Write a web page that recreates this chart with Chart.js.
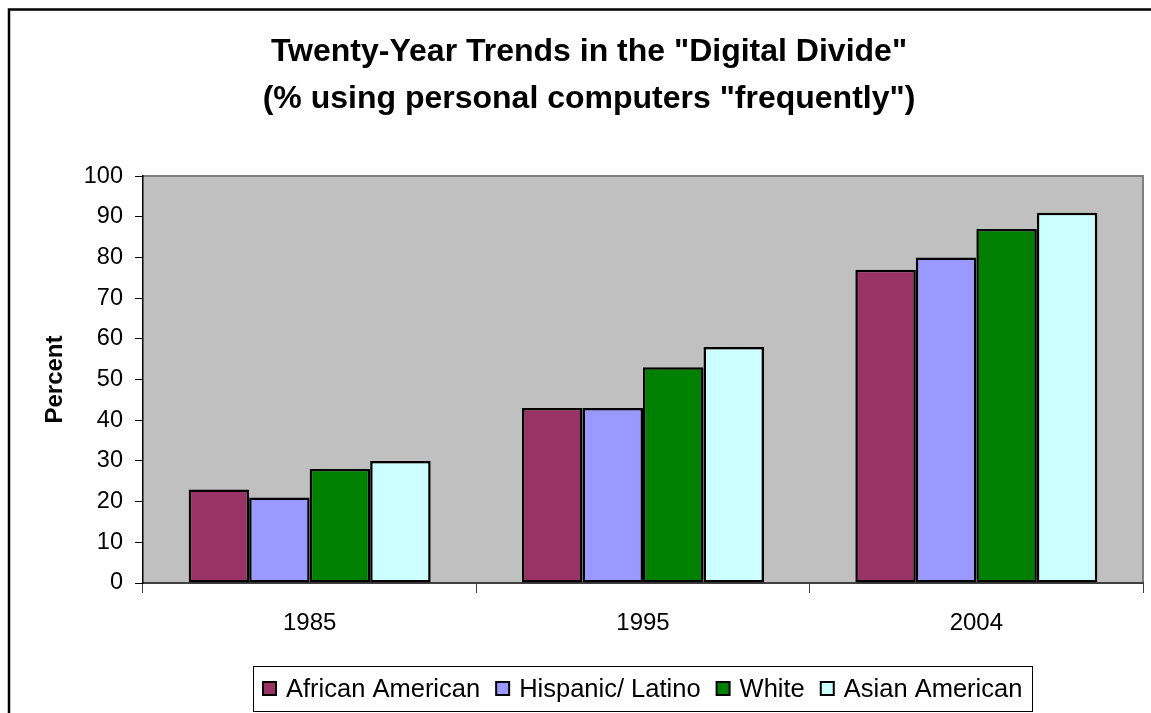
<!DOCTYPE html>
<html>
<head>
<meta charset="utf-8">
<script src="https://cdn.jsdelivr.net/npm/chart.js@4/dist/chart.umd.min.js"></script>
<style>
  html, body { margin: 0; padding: 0; background: #fff; }
  #wrap { width: 1151px; height: 713px; }
</style>
</head>
<body>
<div id="wrap"><canvas id="divide"></canvas></div>
<script>
// data
const years = ["1985", "1995", "2004"];
const groups = ["African American", "Hispanic/ Latino", "White", "Asian American"];
const africanAmerican = [23, 43, 77];
const hispanicLatino = [21, 43, 80];
const white = [28, 53, 87];
const asianAmerican = [30, 58, 91];
const groupColors = ["#993366", "#9999FF", "#008000", "#CCFFFF"];
const titleLines = ['Twenty-Year Trends in the "Digital Divide"', '(% using personal computers "frequently")'];

const fontFam = '"Liberation Sans", Arial, sans-serif';
const seriesValues = [africanAmerican, hispanicLatino, white, asianAmerican];

// gray plot area + outer frame
const backdrop = {
  id: "backdrop",
  beforeDraw(chart) {
    const ctx = chart.ctx;
    const a = chart.chartArea;
    ctx.save();
    ctx.fillStyle = "#fff";
    ctx.fillRect(0, 0, chart.width, chart.height);
    ctx.strokeStyle = "#000";
    ctx.lineWidth = 2.5;
    ctx.strokeRect(9, 9.5, chart.width + 20, chart.height + 20);
    ctx.fillStyle = "#C0C0C0";
    ctx.fillRect(a.left, a.top, a.right - a.left, a.bottom - a.top);
    ctx.strokeStyle = "#808080";
    ctx.lineWidth = 2;
    ctx.beginPath();
    ctx.moveTo(a.left, a.top);
    ctx.lineTo(a.right, a.top);
    ctx.lineTo(a.right, a.bottom);
    ctx.stroke();
    ctx.restore();
  }
};

// boxed legend under the x axis, centred on the plot
const boxLegend = {
  id: "boxLegend",
  afterDraw(chart) {
    const ctx = chart.ctx;
    const a = chart.chartArea;
    ctx.save();
    ctx.font = "25.5px " + fontFam;
    const sq = 13, gapTxt = 10, gapItem = 16, pad = 10;
    const items = chart.data.datasets.map(ds => ({
      label: ds.label, color: ds.backgroundColor, w: ctx.measureText(ds.label).width
    }));
    let total = pad * 2 + gapItem * (items.length - 1);
    items.forEach(it => total += sq + gapTxt + it.w);
    const cx = (a.left + a.right) / 2;
    const top = 666, bottom = 711, mid = 688.5;
    let x = Math.round(cx - total / 2);
    ctx.strokeStyle = "#000";
    ctx.lineWidth = 1;
    ctx.strokeRect(x + 0.5, top + 0.5, Math.round(total), bottom - top);
    x += pad;
    ctx.textBaseline = "middle";
    ctx.textAlign = "left";
    items.forEach(it => {
      ctx.fillStyle = it.color;
      ctx.fillRect(x, mid - 6.5, sq, sq);
      ctx.lineWidth = 2;
      ctx.strokeStyle = "#000";
      ctx.strokeRect(x, mid - 6.5, sq, sq);
      x += sq + gapTxt;
      ctx.fillStyle = "#000";
      ctx.fillText(it.label, x, mid + 1);
      x += it.w + gapItem;
    });
    ctx.restore();
  }
};

new Chart(document.getElementById("divide"), {
  type: "bar",
  data: {
    labels: years,
    datasets: groups.map((g, i) => ({
      label: g,
      data: seriesValues[i],
      backgroundColor: groupColors[i],
      borderColor: "#000",
      borderWidth: 2.5,
      borderSkipped: false,
      categoryPercentage: 0.726,
      barPercentage: 1.0
    }))
  },
  options: {
    responsive: true,
    maintainAspectRatio: false,
    animation: false,
    layout: { padding: { left: 35, right: 8, top: 0, bottom: 78 } },
    plugins: {
      legend: { display: false },
      tooltip: { enabled: false },
      title: {
        display: true,
        text: titleLines,
        color: "#000",
        font: { family: fontFam, size: 32, weight: "bold", lineHeight: 1.47 },
        padding: { top: 28.5, bottom: 53.5 }
      }
    },
    scales: {
      x: {
        grid: { offset: true, drawOnChartArea: false, drawTicks: true, tickLength: 10, color: "#404040", lineWidth: 1 },
        border: { display: true, color: "#404040", width: 2 },
        ticks: { color: "#000", font: { family: fontFam, size: 24 }, padding: 16 },
        afterFit(scale) { scale.height = 52; }
      },
      y: {
        min: 0,
        max: 100,
        ticks: { stepSize: 10, color: "#000", font: { family: fontFam, size: 23.5 }, padding: 12 },
        grid: { drawOnChartArea: false, drawTicks: true, tickLength: 8, color: "#000", lineWidth: 1 },
        border: { display: true, color: "#000", width: 1.5 },
        title: {
          display: true,
          text: "Percent",
          color: "#000",
          font: { family: fontFam, size: 24, weight: "bold" },
          padding: { top: 6, bottom: 0 }
        },
        afterFit(scale) { scale.width = 108; }
      }
    }
  },
  plugins: [backdrop, boxLegend]
});
</script>
</body>
</html>
